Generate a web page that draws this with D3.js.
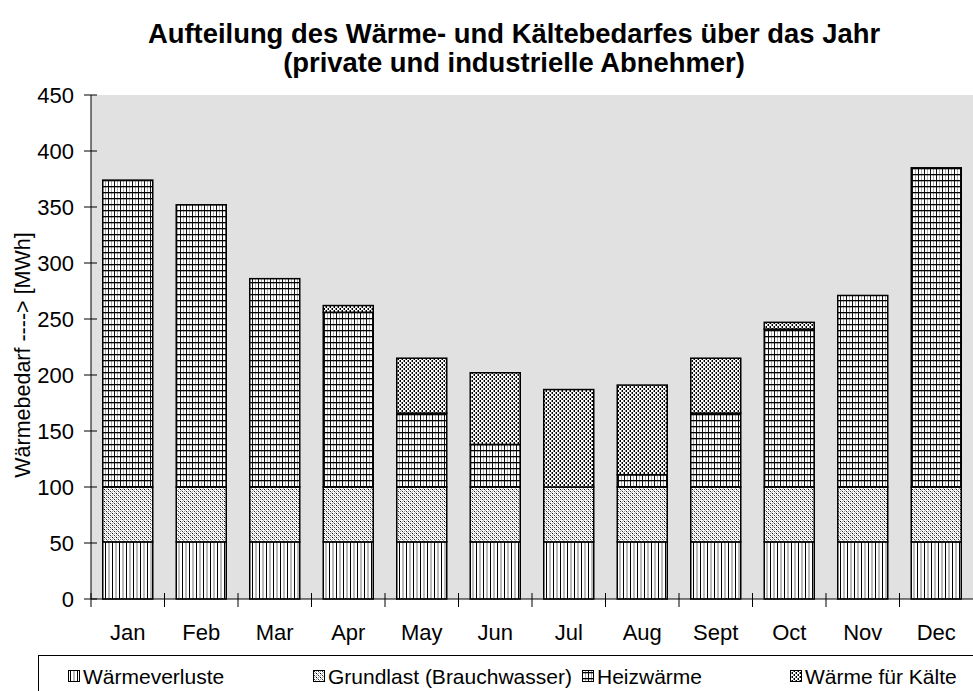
<!DOCTYPE html>
<html><head><meta charset="utf-8">
<script src="https://cdn.jsdelivr.net/npm/d3@7"></script>
<style>body{margin:0;background:#fff}svg{display:block;font-family:Arial,"Liberation Sans",sans-serif}</style>
</head><body>
<svg id="c" width="973" height="691"></svg>
<script>
const months = ["Jan","Feb","Mar","Apr","May","Jun","Jul","Aug","Sept","Oct","Nov","Dec"];
const seriesNames = ["Wärmeverluste","Grundlast (Brauchwasser)","Heizwärme","Wärme für Kälte"];
const waermeverluste = [51,51,51,51,51,51,51,51,51,51,51,51];
const grundlast = [49,49,49,49,49,49,49,49,49,49,49,49];
const heizwaerme = [274,252,186,156,66,38,0,11,66,141,171,285];
const waermeKaelte = [0,0,0,6,49,64,87,80,49,6,0,0];
const yTicks = [0,50,100,150,200,250,300,350,400,450];

const svg = d3.select("#c");
const M = {l:91, r:973, t:95, b:599};
const x = d3.scaleBand().domain(months).range([M.l, M.l + 73.5*12]).padding(0);
const y = d3.scaleLinear().domain([0,450]).range([M.b, M.t]);

const defs = svg.append("defs");
function pat(id,w,h){const p=defs.append("pattern").attr("id",id).attr("patternUnits","userSpaceOnUse").attr("width",w).attr("height",h);
  p.append("rect").attr("width",w).attr("height",h).attr("fill","#fff");return p;}
function r(p,x0,y0,w,h,c){p.append("rect").attr("x",x0).attr("y",y0).attr("width",w).attr("height",h).attr("fill",c);}
// Wärmeverluste: vertical lines
let p = pat("p0",7,4);
r(p,0,0,1,4,"#000"); r(p,3.5,0,1,4,"#777");
// Grundlast: dotted diagonal
p = pat("p1",4,4);
p.append("path").attr("d","M0,4 L4,0 M-1,1 L1,-1 M3,5 L5,3").attr("stroke","#999").attr("stroke-width",0.9);
r(p,0,1,1,1,"#000"); r(p,2,3,1,1,"#333");
// Heizwärme: grid
p = pat("p2",6,6);
r(p,0,0,1,6,"#111"); r(p,3,0,1,6,"#aaa"); r(p,0,0,6,1.3,"#000");
// Wärme für Kälte: checker
p = pat("p3",4,4);
r(p,0,0,1,2,"#000"); r(p,2,2,1,2,"#000"); r(p,1,2,1,2,"#888"); r(p,3,0,1,2,"#888");

// plot area
svg.append("rect").attr("x",M.l).attr("y",M.t).attr("width",M.r-M.l+5).attr("height",M.b-M.t).attr("fill","#e1e1e1");

// Title
svg.append("text").attr("x",514).attr("y",43).attr("text-anchor","middle").attr("font-size",27.4).attr("font-weight","bold").text("Aufteilung des Wärme- und Kältebedarfes über das Jahr");
svg.append("text").attr("x",514).attr("y",72).attr("text-anchor","middle").attr("font-size",27.4).attr("font-weight","bold").text("(private und industrielle Abnehmer)");

// Bars
const data = months.map((m,i)=>({month:m, s0:waermeverluste[i], s1:grundlast[i], s2:heizwaerme[i], s3:waermeKaelte[i]}));
const stack = d3.stack().keys(["s0","s1","s2","s3"])(data);
const bw = 50;
stack.forEach((layer,k)=>{
  svg.append("g").selectAll("rect").data(layer.filter(d=>d[1]-d[0]>0)).join("rect")
    .attr("x",d=>x(d.data.month)+x.bandwidth()/2-bw/2)
    .attr("width",bw)
    .attr("y",d=>y(d[1]))
    .attr("height",d=>y(d[0])-y(d[1]))
    .attr("fill",`url(#p${k})`)
    .attr("stroke","#000").attr("stroke-width",1.5);
});

// Y axis
const gy = svg.append("g");
gy.append("line").attr("x1",M.l).attr("x2",M.l).attr("y1",M.t).attr("y2",M.b).attr("stroke","#000").attr("stroke-width",1);
yTicks.forEach(t=>{
  gy.append("line").attr("x1",M.l-7).attr("x2",M.l+6).attr("y1",y(t)).attr("y2",y(t)).attr("stroke","#000").attr("stroke-width",1);
  gy.append("text").attr("x",74).attr("y",y(t)).attr("dy","0.36em").attr("text-anchor","end").attr("font-size",22).text(t);
});
svg.append("text").attr("transform","translate(30,355) rotate(-90)").attr("text-anchor","middle").attr("font-size",21.5).text("Wärmebedarf ----> [MWh]");

// X axis
const gx = svg.append("g");
gx.append("line").attr("x1",M.l).attr("x2",M.r).attr("y1",M.b).attr("y2",M.b).attr("stroke","#000").attr("stroke-width",1);
months.forEach(m=>{
  gx.append("line").attr("x1",x(m)).attr("x2",x(m)).attr("y1",M.b-6).attr("y2",M.b+8).attr("stroke","#000").attr("stroke-width",1);
  gx.append("text").attr("x",x(m)+x.bandwidth()/2).attr("y",640).attr("text-anchor","middle").attr("font-size",22).text(m);
});

// Legend
svg.append("rect").attr("x",38.5).attr("y",655.5).attr("width",945).attr("height",40).attr("fill","#fff").attr("stroke","#000").attr("stroke-width",1);
const legX = [68, 313, 582, 790];
seriesNames.forEach((n,i)=>{
  svg.append("rect").attr("x",legX[i]+0.5).attr("y",670.5).attr("width",11).attr("height",11).attr("fill",`url(#p${i})`).attr("stroke","#000").attr("stroke-width",1);
  svg.append("text").attr("x",legX[i]+15).attr("y",684).attr("font-size",21).text(n);
});
</script>
</body></html>
